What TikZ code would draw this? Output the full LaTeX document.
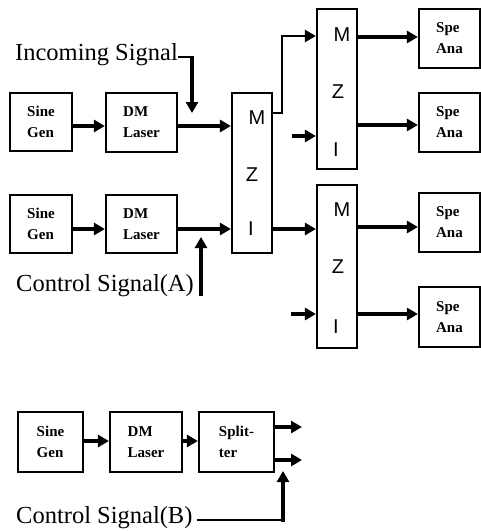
\documentclass[tikz,border=0pt]{standalone}
\usepackage{fontspec}
\setmainfont{Liberation Serif}
\newfontfamily\mzifont{Liberation Sans}
\usetikzlibrary{arrows.meta}
\begin{document}
\begin{tikzpicture}[x=1pt,y=-1pt,
  box/.style={draw,line width=2.2pt,inner sep=0pt,align=left,
    font=\fontsize{15}{21}\selectfont\bfseries},
  mzibox/.style={draw,line width=2.2pt,inner sep=0pt,minimum width=40pt},
  arr/.style={line width=3.2pt,-{Triangle[length=11pt,width=12pt]}},
  thinline/.style={line width=1.6pt},
  lab/.style={font=\fontsize{24.5}{24}\selectfont,inner sep=0pt,anchor=base west},
  mz/.style={font=\mzifont\fontsize{20}{20}\selectfont,inner sep=0pt}]
\useasboundingbox (0,0) rectangle (481,531);

% top row boxes
\node[box,minimum width=62pt,minimum height=58pt] (sg1) at (41,122) {Sine\\Gen};
\node[box,minimum width=71pt,minimum height=59pt] (dm1) at (141.5,122.5) {DM\\Laser};
\node[box,minimum width=62pt,minimum height=58pt] (sg2) at (41,224) {Sine\\Gen};
\node[box,minimum width=71pt,minimum height=58pt] (dm2) at (141.5,224) {DM\\Laser};

% MZIs
\node[mzibox,minimum height=160pt] (mzi1) at (252,173) {};
\node[mz] (m1) at (257,118) {M};
\node[mz] (z1) at (252,175) {Z};
\node[mz] (i1) at (251,229) {I};

\node[mzibox,minimum height=160pt] (mzi2) at (337,89) {};
\node[mz] (m2) at (342,35) {M};
\node[mz] (z2) at (338,92) {Z};
\node[mz] (i2) at (336,150) {I};

\node[mzibox,minimum height=163pt] (mzi3) at (337,266.5) {};
\node[mz] (m3) at (342,210) {M};
\node[mz] (z3) at (338,267) {Z};
\node[mz] (i3) at (336,327) {I};

% spectrum analysers
\node[box,minimum width=61pt,minimum height=59pt] (sa1) at (449.5,38.5) {Spe\\Ana};
\node[box,minimum width=61pt,minimum height=59pt] (sa2) at (449.5,122.5) {Spe\\Ana};
\node[box,minimum width=61pt,minimum height=59pt] (sa3) at (449.5,222.5) {Spe\\Ana};
\node[box,minimum width=61pt,minimum height=60pt] (sa4) at (449.5,317) {Spe\\Ana};

% bottom row
\node[box,minimum width=65pt,minimum height=60pt] (sg3) at (50.5,442) {Sine\\Gen};
\node[box,minimum width=72pt,minimum height=60pt] (dm3) at (146,442) {DM\\Laser};
\node[box,minimum width=75pt,minimum height=60pt] (sp) at (236.5,442) {Split-\\ter};

% labels
\node[lab] (inc) at (15,60) {Incoming Signal};
\node[lab] (ctla) at (16,291) {Control Signal(A)};
\node[lab] (ctlb) at (16,523) {Control Signal(B)};

% coordinates
\coordinate (inctop) at (192,57);
\coordinate (inctip) at (192,113);
\coordinate (ctlabot) at (201,296);
\coordinate (ctlatip) at (201,237);
\coordinate (in2) at (292,136);
\coordinate (in3) at (291,314);
\coordinate (out1) at (302,427);
\coordinate (out2) at (302,460);
\coordinate (ctlbturn) at (283,520);
\coordinate (ctlbtip) at (283,471);

% connectors top
\draw[arr] (sg1.east |- 0,126) -- (dm1.west |- 0,126);
\draw[arr] (dm1.east |- 0,126) -- (mzi1.west |- 0,126);
\draw[arr] (sg2.east |- 0,229) -- (dm2.west |- 0,229);
\draw[arr] (dm2.east |- 0,229) -- (mzi1.west |- 0,229);

\draw[thinline] ([yshift=3pt]inc.base east) -- (inctop);
\draw[arr] ([yshift=1.5pt]inctop) -- (inctip);
\draw[arr] (ctlabot) -- (ctlatip);

\draw[arr,line width=2.6pt] (mzi1.east |- 0,113) -- ++(9,0) |- (mzi2.west |- 0,36);
\draw[arr] (mzi1.east |- 0,229) -- (mzi3.west |- 0,229);
\draw[arr] (in2) -- (mzi2.west |- in2);
\draw[arr] (in3) -- (mzi3.west |- in3);

\draw[arr] (mzi2.east |- 0,37) -- (sa1.west |- 0,37);
\draw[arr] (mzi2.east |- 0,125) -- (sa2.west |- 0,125);
\draw[arr] (mzi3.east |- 0,227) -- (sa3.west |- 0,227);
\draw[arr] (mzi3.east |- 0,314) -- (sa4.west |- 0,314);

% connectors bottom
\draw[arr] (sg3.east |- 0,441) -- (dm3.west |- 0,441);
\draw[arr] (dm3.east |- 0,441) -- (sp.west |- 0,441);
\draw[arr] (sp.east |- out1) -- (out1);
\draw[arr] (sp.east |- out2) -- (out2);
\draw[thinline] ([xshift=4pt,yshift=3pt]ctlb.base east) -- (ctlbturn);
\draw[arr] ([yshift=-1.5pt]ctlbturn) -- (ctlbtip);
\end{tikzpicture}
\end{document}
